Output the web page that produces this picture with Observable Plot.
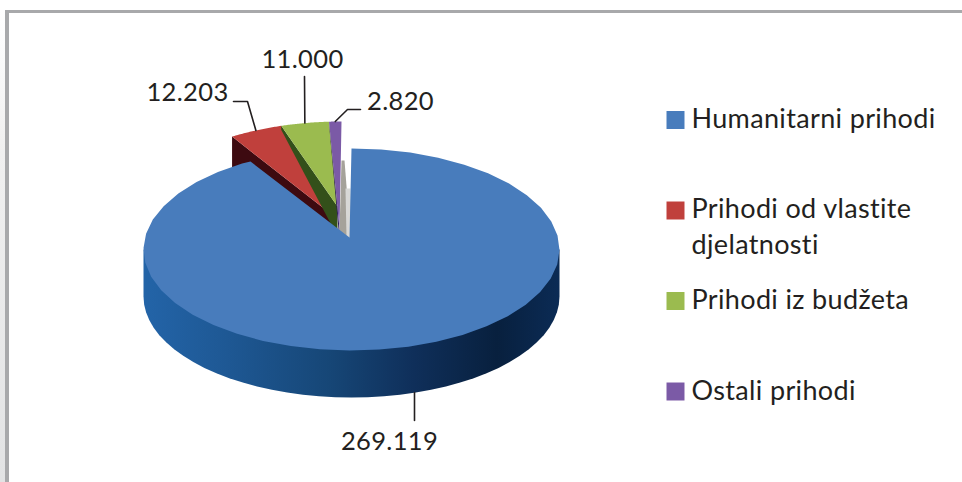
<!DOCTYPE html>
<html>
<head>
<meta charset="utf-8">
<script src="https://cdn.jsdelivr.net/npm/d3@7"></script>
<script src="https://cdn.jsdelivr.net/npm/@observablehq/plot@0.6"></script>
<style>html,body{margin:0;padding:0;background:#fff}svg{display:block}</style>
</head>
<body>
<div id="chart"></div>
<script>
const categories = ["Humanitarni prihodi", "Prihodi od vlastite\ndjelatnosti", "Prihodi iz budžeta", "Ostali prihodi"];
const values = [269119, 12203, 11000, 2820];
const valueLabels = ["269.119", "12.203", "11.000", "2.820"];
const topColors = ["#487cbc", "#c0403c", "#9bbb4f", "#7b5aa6"];
const wallColors = ["#174a7e", "#3d0a10", "#33501a", "#2c1a5c"];

// layout of the projected pie on the page
const W = 962, H = 482, CX = 351, CY = 249, RX = 208, RY = 101, DEPTH = 47;
const ux = (px) => (px - CX) / RX;
const uy = (py) => (CY - py) / RY;
const INK = "#231f20";

const total = d3.sum(values);
let acc = 0;
const slices = values.map((v, i) => {
  const a0 = (acc / total) * 360;
  acc += v;
  return {i, a0, a1: (acc / total) * 360, mid: (a0 + (acc / total) * 360) / 2};
});
const rad = (a) => (a * Math.PI) / 180;
const rim = (a, ox = 0, oy = 0) => ({x: Math.sin(rad(a)) + ux(CX + ox), y: Math.cos(rad(a)) + uy(CY + oy)});
const arc = (a0, a1, ox, oy) => d3.range(0, 41).map((k) => rim(a0 + ((a1 - a0) * k) / 40, ox, oy));
const at = (px, py) => ({x: ux(px), y: uy(py)});
const poly = (pts, fill, extra = {}) => Plot.line(pts, {x: "x", y: "y", fill, stroke: "none", curve: "linear-closed", imageFilter: "blur(0.6px)", ...extra});
const box = (x1, x2, y1, y2, fill) => Plot.rect([{}], {x1: ux(x1), x2: ux(x2), y1: uy(y1), y2: uy(y2), fill});

// exploded slices: shift of rim, visible apex
const OX = -10, OY = -27;
const apex = [at(349, 237), at(335, 217), at(337, 206), at(339, 228)];

const wedge = (s) => [apex[s.i], ...arc(s.a0, s.a1, OX, OY)];
// wall below a slice's leading edge: wRim px deep at the rim, wApex px deep at the apex
const wall = (s, wRim, wApex) => {
  const p = rim(s.a0, OX, OY);
  const pb = rim(s.a0, OX, OY + wRim);
  return [p, apex[s.i], {x: apex[s.i].x, y: apex[s.i].y - wApex / RY}, pb];
};

const defs = () => {
  const d = d3.create("svg:defs");
  const side = d.append("linearGradient").attr("id", "sideGrad");
  [[0, "#2364a8"], [0.2, "#1e5894"], [0.45, "#164676"], [0.65, "#0f2f5a"], [0.85, "#08203e"], [1, "#0b2b55"]]
    .forEach(([o, c]) => side.append("stop").attr("offset", o).attr("stop-color", c));
  const strip = d.append("linearGradient").attr("id", "stripGrad").attr("x1", 0).attr("x2", 0).attr("y1", 0).attr("y2", 1);
  [[0, "#ffffff"], [0.3, "#f0f0f0"], [1, "#e2e3e4"]]
    .forEach(([o, c]) => strip.append("stop").attr("offset", o).attr("stop-color", c));
  return d.node();
};

// leader lines start on the slice rim at the middle angle
const leaderAnchor = [
  {x: ux(414), y: uy(392)},
  rim(slices[1].mid, OX, OY),
  rim(slices[2].mid, OX, OY),
  rim(slices[3].mid, OX, OY)
];
const leaderBends = [
  [at(414, 420)],
  [at(247, 101), at(233, 101)],
  [at(304, 76)],
  [at(347, 109), at(360, 109)]
];
const labelAt = [at(389, 449), at(187, 100), at(302, 67), at(400, 109)];

// legend rows
const legendRows = categories.flatMap((c, i) =>
  c.split("\n").map((t, k) => ({t, x: ux(691), y: uy(127 + 90.75 * i + 36 * k)}))
);

const marks = [
  defs,
  box(0, 5, 10, 482, "url(#stripGrad)"),
  box(5, 962, 10, 13, "#a8a9ab"),
  box(5, 9, 10, 482, "#a8a9ab"),
  // exploded slices, back to front
  poly(wall(slices[1], 40, 40), wallColors[1]),
  poly(wedge(slices[1]), topColors[1]),
  poly(wall(slices[2], 4, 30), wallColors[2]),
  poly(wedge(slices[2]), topColors[2]),
  poly(wall(slices[3], 2, 12), wallColors[3]),
  poly(wedge(slices[3]), topColors[3]),
  // inner walls of the main slice
  poly([at(341, 160), at(344, 160), at(350, 237), at(339, 232)], "#a5a29a"),
  poly([at(345, 188), at(350, 188), at(351, 237), at(346, 236)], "#d8d8d6"),
  // main slice: side runs under the top face so no seam shows
  poly([...arc(270, 90, 0, DEPTH), rim(90), rim(270)], "url(#sideGrad)"),
  poly([apex[0], ...arc(slices[0].a0, slices[0].a1, 0, 0), at(250, 161)], topColors[0]),
  // leaders
  ...slices.map((s) => Plot.line([leaderAnchor[s.i], ...leaderBends[s.i]], {x: "x", y: "y", stroke: INK, strokeWidth: 1.6})),
  // data labels
  Plot.text(slices, {
    x: (s) => labelAt[s.i].x,
    y: (s) => labelAt[s.i].y,
    text: (s) => valueLabels[s.i],
    lineAnchor: "bottom",
    textAnchor: "middle",
    fontSize: 25.5,
    fill: INK
  }),
  // legend
  Plot.dot(slices, {
    x: ux(675),
    y: (s) => uy(119.5 + 90.5 * s.i),
    symbol: "square",
    r: 10.15,
    fill: (s) => topColors[s.i],
    stroke: "none"
  }),
  Plot.text(legendRows, {x: "x", y: "y", text: "t", lineAnchor: "bottom", textAnchor: "start", fontSize: 27, fill: INK})
];

const plot = Plot.plot({
  width: W,
  height: H,
  margin: 0,
  style: {fontFamily: "Lato", background: "#fff", letterSpacing: "0.35px"},
  x: {domain: [ux(0), ux(W)], range: [0, W], axis: null},
  y: {domain: [uy(0), uy(H)], range: [0, H], axis: null},
  color: {type: "identity"},
  marks
});
document.getElementById("chart").append(plot);
</script>
</body>
</html>
